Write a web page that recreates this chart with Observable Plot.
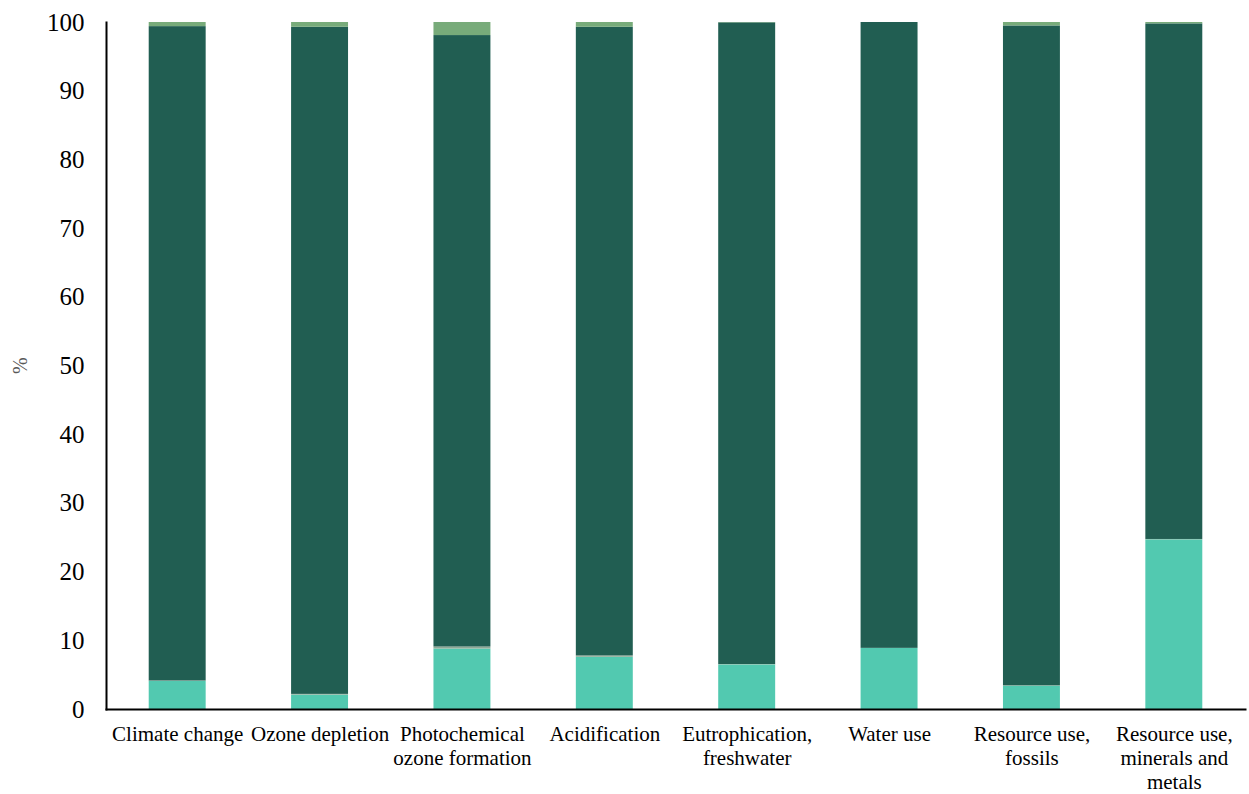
<!DOCTYPE html>
<html>
<head>
<meta charset="utf-8">
<script src="https://cdn.jsdelivr.net/npm/d3@7"></script>
<script src="https://cdn.jsdelivr.net/npm/@observablehq/plot@0.6"></script>
<style>
  html, body { margin: 0; padding: 0; background: #fff; }
  #chart svg { display: block; }
</style>
</head>
<body>
<div id="chart"></div>
<script>
const categories = [
  "Climate change", "Ozone depletion", "Photochemical ozone formation", "Acidification",
  "Eutrophication, freshwater", "Water use", "Resource use, fossils", "Resource use, minerals and metals"
];
const tickLabels = [
  "Climate change", "Ozone depletion", "Photochemical\nozone formation", "Acidification",
  "Eutrophication,\nfreshwater", "Water use", "Resource use,\nfossils", "Resource use,\nminerals and\nmetals"
];
const seriesNames = ["Series 1", "Series 2", "Series 3", "Series 4"];
const series1 = [4.1, 2.1, 8.8, 7.6, 6.5, 8.9, 3.4, 24.7];
const series2 = [0.05, 0.1, 0.3, 0.2, 0.05, 0.0, 0.05, 0.05];
const series3 = [95.25, 97.1, 89.0, 91.5, 93.4, 91.1, 96.05, 75.05];
const series4 = [0.6, 0.7, 1.9, 0.7, 0.05, 0.0, 0.5, 0.2];
const yTicks = [0, 10, 20, 30, 40, 50, 60, 70, 80, 90, 100];
const colors = ["#52C9B0", "#8FA996", "#215E52", "#78AB7A"];

const allSeries = [series1, series2, series3, series4];
const data = [];
allSeries.forEach((vals, si) => {
  categories.forEach((c, ci) => {
    data.push({category: c, series: seriesNames[si], value: vals[ci]});
  });
});
const labelOf = new Map(categories.map((c, i) => [c, tickLabels[i]]));

const chart = Plot.plot({
  width: 1249,
  height: 794,
  marginLeft: 106,
  marginRight: 4,
  marginTop: 22,
  marginBottom: 85,
  style: {fontFamily: "'Liberation Serif', 'Times New Roman', serif", color: "#000", background: "#fff"},
  x: {domain: categories, paddingInner: 0.6, paddingOuter: 0.3, round: false},
  y: {domain: [0, 100]},
  color: {domain: seriesNames, range: colors},
  marks: [
    Plot.barY(data, {x: "category", y: "value", fill: "series"}),
    Plot.axisY({ticks: yTicks, tickSize: 0, tickPadding: 22, fontSize: 25, label: null}),
    Plot.text(["%"], {frameAnchor: "left", dx: -86, dy: 8, rotate: -90, fontSize: 20, fill: "#595959"}),
    Plot.axisX({tickSize: 0, tickPadding: 14, fontSize: 21, tickFormat: d => labelOf.get(d), lineHeight: 1.15, label: null}),
    Plot.frame({anchor: "left", stroke: "#000", strokeWidth: 2}),
    Plot.frame({anchor: "bottom", stroke: "#000", strokeWidth: 2})
  ]
});
document.getElementById("chart").appendChild(chart);
</script>
</body>
</html>
